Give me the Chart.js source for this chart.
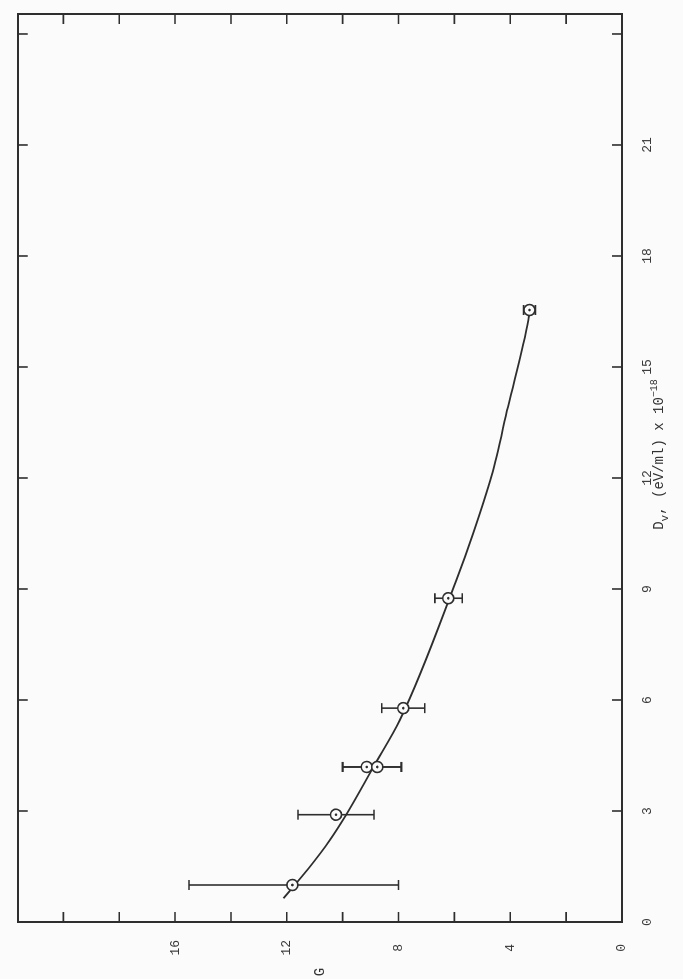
<!DOCTYPE html>
<html>
<head>
<meta charset="utf-8">
<script src="https://cdn.jsdelivr.net/npm/chart.js@4.4.1/dist/chart.umd.min.js"></script>
<style>
  html, body { margin: 0; padding: 0; background: #fbfbfb; overflow: hidden; }
  /* the scanned page is turned a quarter turn, so the chart is drawn upright and rotated */
  #wrap { position: absolute; left: 0; top: 0; width: 979px; height: 683px;
          transform-origin: 0 0; transform: translate(0px, 979px) rotate(-90deg); }
</style>
</head>
<body>
<div id="wrap"><canvas id="chart" width="979" height="683"></canvas></div>
<script>
// measured points: dose D_v (eV/ml x 10^-18) against G, with G error range
const doseD  = [1.0, 2.9, 4.19, 4.19, 5.78, 8.75, 16.54];
const gValue = [11.8, 10.24, 9.14, 8.76, 7.83, 6.22, 3.31];
const gLow   = [8.0, 8.88, 7.9, 7.9, 7.06, 5.72, 3.10];
const gHigh  = [15.5, 11.6, 10.0, 10.0, 8.6, 6.7, 3.52];

// hand drawn curve
const curveD = [0.64, 1.45, 2.22, 2.89, 4.19, 5.46, 9.24, 10.5, 12.04, 13.93, 16.27, 16.45];
const curveG = [12.12, 11.22, 10.45, 9.88, 8.9, 7.95, 5.93, 5.33, 4.68, 4.08, 3.35, 3.32];

// labelled ticks
const doseLabels = [0, 3, 6, 9, 12, 15, 18, 21];
const gLabels = [0, 4, 8, 12, 16];

const ink = '#2e2e2e';
const paper = '#fbfbfb';

Chart.defaults.font.family = "'Liberation Mono', 'DejaVu Sans Mono', monospace";
Chart.defaults.font.size = 13;
Chart.defaults.color = '#3a3a3a';

// error bars go under the circles
const errorBars = {
  id: 'errorBars',
  beforeDatasetsDraw(chart) {
    const ctx = chart.ctx, xs = chart.scales.x, ys = chart.scales.y;
    ctx.save();
    ctx.strokeStyle = ink;
    ctx.lineWidth = 1.6;
    for (let i = 0; i < doseD.length; i++) {
      const px = xs.getPixelForValue(doseD[i]);
      const y1 = ys.getPixelForValue(gLow[i]);
      const y2 = ys.getPixelForValue(gHigh[i]);
      ctx.beginPath();
      ctx.moveTo(px, y1); ctx.lineTo(px, y2);
      ctx.moveTo(px - 5, y1); ctx.lineTo(px + 5, y1);
      ctx.moveTo(px - 5, y2); ctx.lineTo(px + 5, y2);
      ctx.stroke();
    }
    ctx.restore();
  }
};

// inward tick marks on all four sides, plus the axis titles
const frameBits = {
  id: 'frameBits',
  afterDraw(chart) {
    const ctx = chart.ctx, xs = chart.scales.x, ys = chart.scales.y, a = chart.chartArea;
    ctx.save();
    ctx.strokeStyle = ink;
    ctx.lineWidth = 1.6;
    ctx.beginPath();
    xs.ticks.forEach(t => {
      if (t.value <= 0) return;
      const px = xs.getPixelForValue(t.value);
      ctx.moveTo(px, a.bottom); ctx.lineTo(px, a.bottom - 10);
      ctx.moveTo(px, a.top); ctx.lineTo(px, a.top + 10);
    });
    ys.ticks.forEach(t => {
      if (t.value <= 0) return;
      const py = ys.getPixelForValue(t.value);
      ctx.moveTo(a.left, py); ctx.lineTo(a.left + 10, py);
      ctx.moveTo(a.right, py); ctx.lineTo(a.right - 10, py);
    });
    ctx.stroke();

    // D_v, (eV/ml) x 10^-18
    ctx.fillStyle = '#333';
    ctx.textBaseline = 'alphabetic';
    ctx.textAlign = 'left';
    let x = xs.getPixelForValue(10.6);
    const base = a.bottom + 41;
    const pieces = [['D', 14, 0], ['v', 11, 5], [', (eV/ml) x 10', 14, 0], ['\u221218', 10, -6]];
    pieces.forEach(([txt, size, dy]) => {
      ctx.font = size + "px 'Liberation Mono', monospace";
      ctx.fillText(txt, x, base + dy);
      x += ctx.measureText(txt).width;
    });

    // G, written upright on the original sheet
    ctx.font = "14px 'Liberation Mono', monospace";
    ctx.textAlign = 'center';
    ctx.textBaseline = 'middle';
    ctx.fillText('G', 7, (a.top + a.bottom) / 2);
    ctx.restore();
  }
};

const pts = doseD.map((d, i) => ({ x: d, y: gValue[i] }));
const curve = curveD.map((d, i) => ({ x: d, y: curveG[i] }));

new Chart(document.getElementById('chart'), {
  type: 'scatter',
  data: {
    datasets: [
      {
        data: pts, order: 1, pointRadius: 1.3, pointBackgroundColor: ink,
        pointBorderWidth: 0, showLine: false
      },
      {
        data: pts, order: 2, pointRadius: 5.5, pointBorderWidth: 1.6,
        pointBorderColor: ink, pointBackgroundColor: paper, showLine: false
      },
      {
        data: curve, order: 3, showLine: true, pointRadius: 0,
        borderColor: ink, borderWidth: 1.8, cubicInterpolationMode: 'monotone'
      }
    ]
  },
  options: {
    responsive: false,
    animation: false,
    layout: { padding: { top: 15, right: 14, left: 0, bottom: 0 } },
    plugins: { legend: { display: false }, tooltip: { enabled: false } },
    scales: {
      x: {
        type: 'linear', position: 'bottom', min: 0, max: 24.54,
        grid: { display: false },
        border: { display: true, color: ink, width: 2 },
        ticks: {
          stepSize: 3, includeBounds: false, padding: 10, maxRotation: 0,
          callback: v => doseLabels.includes(v) ? String(v) : ''
        },
        afterFit: s => { s.height = 61; }
      },
      y: {
        type: 'linear', position: 'left', min: 0, max: 21.63,
        grid: { display: false },
        border: { display: true, color: ink, width: 2 },
        ticks: {
          stepSize: 2, includeBounds: false, padding: 10, crossAlign: 'center',
          callback: v => gLabels.includes(v) ? String(v) : ''
        },
        afterFit: s => { s.width = 57; }
      },
      x2: {
        type: 'linear', position: 'top', min: 0, max: 24.54,
        grid: { display: false }, ticks: { display: false },
        border: { display: true, color: ink, width: 2 },
        afterFit: s => { s.height = 0; }
      },
      y2: {
        type: 'linear', position: 'right', min: 0, max: 21.63,
        grid: { display: false }, ticks: { display: false },
        border: { display: true, color: ink, width: 2 },
        afterFit: s => { s.width = 0; }
      }
    }
  },
  plugins: [errorBars, frameBits]
});
</script>
</body>
</html>
